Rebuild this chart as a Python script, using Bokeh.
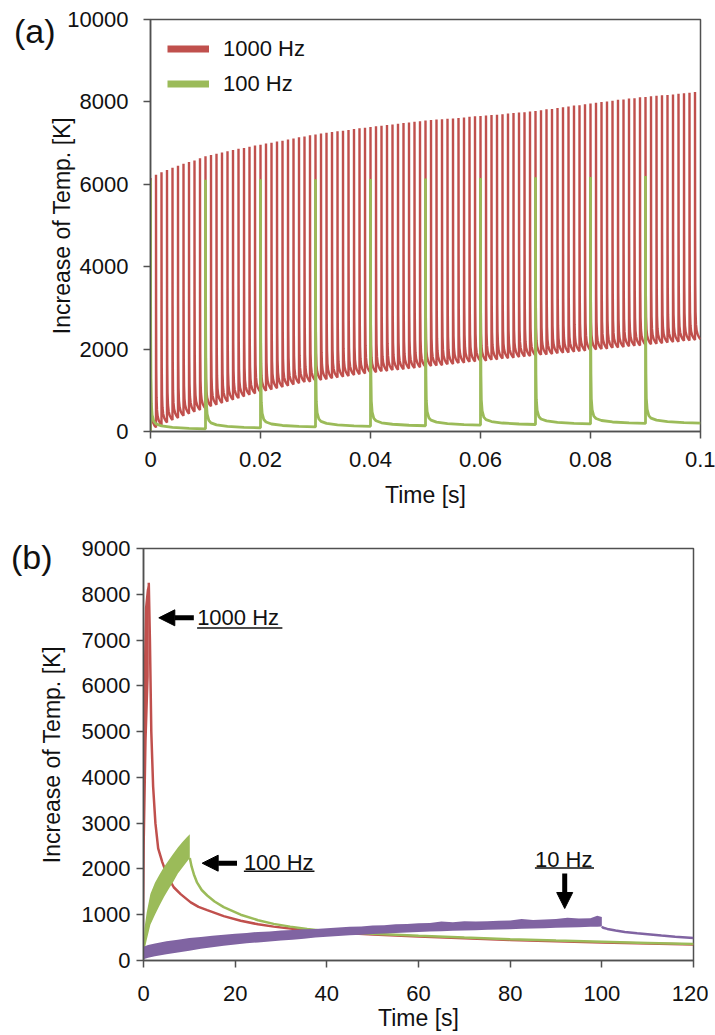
from bokeh.plotting import figure
from bokeh.layouts import column, row
from bokeh.models import (Range1d, FixedTicker, PrintfTickFormatter, Label, Arrow,
                          NormalHead, Legend, LegendItem, LinearAxis, Spacer)
from bokeh.embed import file_html
from bokeh.resources import INLINE

# ---------------- panel (a): pulse trains over 0.1 s ----------------
freq_a = [1000, 100]            # Hz (red, green)
red_a_peak = [
    6150, 6230, 6290, 6350, 6400, 6450, 6500, 6540, 6580, 6630,
    6680, 6710, 6740, 6770, 6800, 6830, 6860, 6880, 6910, 6940,
    6960, 6990, 7010, 7040, 7060, 7090, 7110, 7140, 7160, 7190,
    7210, 7230, 7250, 7270, 7290, 7300, 7320, 7340, 7360, 7370,
    7390, 7410, 7420, 7440, 7450, 7470, 7490, 7500, 7520, 7530,
    7550, 7560, 7570, 7580, 7590, 7600, 7610, 7620, 7640, 7650,
    7660, 7670, 7680, 7690, 7700, 7720, 7730, 7740, 7750, 7770,
    7780, 7800, 7820, 7830, 7850, 7870, 7890, 7910, 7920, 7940,
    7960, 7980, 8000, 8010, 8030, 8050, 8060, 8080, 8090, 8110,
    8120, 8140, 8150, 8160, 8170, 8180, 8200, 8210, 8220, 8240]
red_a_trough = [
    0, 100, 160, 220, 280, 330, 380, 430, 480, 520,
    560, 610, 650, 690, 730, 770, 810, 850, 890, 920,
    960, 990, 1020, 1050, 1080, 1110, 1140, 1170, 1200, 1210,
    1230, 1250, 1270, 1290, 1310, 1330, 1350, 1370, 1390, 1410,
    1430, 1440, 1460, 1470, 1490, 1500, 1510, 1530, 1540, 1560,
    1570, 1590, 1600, 1610, 1630, 1640, 1660, 1670, 1690, 1700,
    1710, 1720, 1740, 1750, 1770, 1780, 1790, 1810, 1820, 1830,
    1845, 1860, 1870, 1880, 1900, 1910, 1920, 1935, 1950, 1960,
    1975, 1990, 2000, 2010, 2030, 2040, 2050, 2070, 2080, 2090,
    2105, 2120, 2130, 2140, 2160, 2170, 2180, 2200, 2210, 2220, 2240]
green_a_peak = [6100, 6110, 6120, 6120, 6130, 6140, 6150, 6170, 6180, 6200]
green_a_trough = [0, 65, 90, 110, 125, 140, 155, 170, 185, 195, 205]
# shape of one pulse: time as fraction of the period, height as fraction of the jump
red_pulse_dt = [0, 0.02, 0.05, 0.1, 0.18, 0.3, 0.5, 0.75, 1.0]
red_pulse_frac = [1.0, 0.45, 0.22, 0.11, 0.06, 0.035, 0.018, 0.007, 0.0]
green_pulse_dt = [0, 0.003, 0.008, 0.015, 0.03, 0.06, 0.1, 0.2, 0.4, 0.7, 1.0]
green_pulse_frac = [1.0, 0.4, 0.2, 0.1, 0.055, 0.03, 0.02, 0.012, 0.006, 0.002, 0.0]

# ---------------- panel (b): long time scale ----------------
red_b_band_t = [0, 0.05, 0.3, 0.7, 1.15]
red_b_band_hi = [0, 6300, 7700, 8100, 8250]
red_b_band_lo = [0, 0, 2500, 4800, 6200]
red_b_tail_t = [1.15, 1.4, 1.7, 2.1, 2.6, 3.2, 4.1, 5.2, 6.6, 8.1, 10.3, 12, 13.9, 17.5,
                21.2, 25, 28.4, 34.3, 40, 50, 60, 70, 80, 90, 100, 110, 120]
red_b_tail_T = [8250, 7000, 5000, 3800, 3000, 2450, 2150, 1850, 1600, 1450, 1270, 1170,
                1100, 970, 870, 790, 740, 670, 620, 570, 525, 485, 450, 420, 395, 370, 350]

green_b_band_t = [0, 0.2, 0.7, 1.5, 2.5, 3.5, 4.5, 5.5, 6.5, 7.5, 8.5, 9.5, 10.1]
green_b_band_hi = [250, 700, 1050, 1450, 1700, 1880, 2050, 2190, 2330, 2470, 2590, 2700, 2760]
green_b_band_lo = [150, 220, 450, 780, 1000, 1200, 1390, 1560, 1720, 1900, 2030, 2160, 2240]
green_b_tail_t = [10.1, 10.5, 11, 11.7, 12.7, 13.9, 15.5, 17.5, 21.2, 25, 28.4, 32, 35.7,
                  40, 50, 60, 70, 80, 90, 100, 110, 120]
green_b_tail_T = [2240, 2050, 1880, 1700, 1540, 1420, 1290, 1165, 1000, 880, 800, 740, 690,
                  640, 585, 540, 500, 465, 435, 410, 385, 360]

purple_b_band_t = [0, 1, 2.5, 5, 7.5, 10, 12.5, 15, 17.5, 20, 22.5, 25, 27.5, 30, 32.5, 35,
                   37.5, 40, 42.5, 45, 47.5, 50, 52.5, 55, 57.5, 60, 62.5, 65, 67.5, 70,
                   72.5, 75, 77.5, 80, 82.5, 85, 87.5, 90, 92.5, 95, 97.5, 99, 100]
purple_b_band_hi = [300, 340, 370, 420, 455, 490, 515, 540, 565, 585, 600, 625, 635, 655,
                    665, 680, 690, 705, 720, 735, 745, 765, 770, 790, 800, 815, 820, 850,
                    835, 855, 850, 860, 870, 875, 905, 885, 895, 905, 935, 915, 925, 975, 950]
purple_b_band_lo = [30, 60, 95, 135, 175, 215, 255, 290, 320, 350, 375, 395, 415, 435,
                    455, 475, 500, 520, 535, 550, 565, 580, 592, 603, 614, 625, 632, 640,
                    648, 655, 663, 670, 678, 685, 692, 700, 707, 715, 722, 728, 735, 738, 740]
purple_b_tail_t = [100, 100.3, 101.2, 103, 105, 107.7, 110, 113, 116, 120]
purple_b_tail_T = [740, 715, 690, 655, 625, 597, 575, 545, 520, 490]

# annotations of panel (b)
ann_text = ["1000 Hz", "100 Hz", "10 Hz"]
ann_text_x = [11.7, 21.9, 85.4]
ann_text_y = [7486, 2141, 2211]
ann_line_x0 = [11.7, 21.9, 85.4]
ann_line_x1 = [30.3, 37.3, 98.3]
ann_line_y = [7264, 1951, 2020]
arrow_x_start = [10.98, 20.4, 91.9]
arrow_y_start = [7486, 2126, 1900]
arrow_x_end = [3.34, 12.8, 91.9]
arrow_y_end = [7486, 2126, 1136]
# panel letters, placed at these heights of each panel's y scale
panel_text = ["(a)", "(b)"]
panel_y = [9709, 8825]

xticks_a = [0, 0.02, 0.04, 0.06, 0.08, 0.1]
yticks_a = [0, 2000, 4000, 6000, 8000, 10000]
xticks_b = [0, 20, 40, 60, 80, 100, 120]
yticks_b = [0, 1000, 2000, 3000, 4000, 5000, 6000, 7000, 8000, 9000]

RED = "#C0504D"
GREEN = "#9BBB59"
PURPLE = "#8064A2"
AX = "#505050"
FONT = "Liberation Sans"
NAN = float("nan")


def pulse_train(freq, peaks, troughs, dt, frac):
    period = 1.0 / freq
    xs, ys = [], []
    for k, pk in enumerate(peaks):
        t0 = k * period
        nxt = troughs[k + 1]
        xs.append(t0)
        ys.append(troughs[k])
        for d, f in zip(dt, frac):
            xs.append(t0 + d * period)
            ys.append(nxt + (pk - nxt) * f)
    return xs, ys


def style(p, xticks, yticks, ylab_standoff, xlab_standoff, ytick_standoff, xtick_standoff):
    for ax in p.axis:
        ax.axis_line_color = AX
        ax.axis_line_width = 1.5
        ax.major_tick_line_color = AX
        ax.major_tick_line_width = 1.5
        ax.major_tick_out = 7
        ax.major_tick_in = 0
        ax.minor_tick_line_color = None
        ax.major_label_text_font = FONT
        ax.major_label_text_font_size = "22px"
        ax.major_label_text_color = "#111111"
        ax.axis_label_text_font = FONT
        ax.axis_label_text_font_size = "23px"
        ax.axis_label_text_font_style = "normal"
        ax.axis_label_text_color = "#111111"
    p.xaxis.ticker = FixedTicker(ticks=xticks)
    p.yaxis.ticker = FixedTicker(ticks=yticks)
    p.yaxis.axis_label_standoff = ylab_standoff
    p.xaxis.axis_label_standoff = xlab_standoff
    p.yaxis.major_label_standoff = ytick_standoff
    p.xaxis.major_label_standoff = xtick_standoff
    p.outline_line_color = AX
    p.outline_line_width = 1.5
    p.xgrid.visible = False
    p.ygrid.visible = False
    p.background_fill_color = "white"
    p.border_fill_color = "white"


def panel_letter(p, text, yval, standoff):
    ax = LinearAxis(ticker=FixedTicker(ticks=[yval]),
                    major_label_overrides={yval: text},
                    axis_line_color=None, major_tick_line_color=None,
                    minor_tick_line_color=None, major_tick_out=0, major_tick_in=0,
                    major_label_standoff=standoff,
                    major_label_text_font=FONT, major_label_text_font_size="34px",
                    major_label_text_color="#111111")
    p.add_layout(ax, "left")


# ---------------- figure (a) ----------------
pa = figure(width=708, height=528, x_range=Range1d(0, 0.1), y_range=Range1d(0, 10000),
            output_backend="svg", toolbar_location=None,
            min_border_left=143, min_border_right=15, min_border_top=19, min_border_bottom=97,
            x_axis_label="Time [s]", y_axis_label="Increase of Temp. [K]")
style(pa, xticks_a, yticks_a, -11, 12, 15, 13)
pa.xaxis.formatter = PrintfTickFormatter(format="%g")
panel_letter(pa, panel_text[0], panel_y[0], -9)

rx, ry = pulse_train(freq_a[0], red_a_peak, red_a_trough, red_pulse_dt, red_pulse_frac)
gx, gy = pulse_train(freq_a[1], green_a_peak, green_a_trough, green_pulse_dt, green_pulse_frac)
pa.line(rx, ry, line_color=RED, line_width=2.4)
pa.line(gx, gy, line_color=GREEN, line_width=2.8)

leg_red = pa.line([NAN], [NAN], line_color=RED, line_width=7)
leg_green = pa.line([NAN], [NAN], line_color=GREEN, line_width=7)
legend = Legend(items=[LegendItem(label="1000 Hz", renderers=[leg_red]),
                       LegendItem(label="100 Hz", renderers=[leg_green])],
                location=(17, 330), padding=10, margin=0, spacing=0,
                glyph_width=42, glyph_height=35, label_height=35, label_standoff=14,
                label_text_font=FONT, label_text_font_size="22px",
                label_text_color="#111111",
                border_line_color=None, background_fill_alpha=0)
pa.add_layout(legend, "center")

# ---------------- figure (b) ----------------
pb = figure(width=708, height=505, x_range=Range1d(0, 120), y_range=Range1d(0, 9000),
            output_backend="svg", toolbar_location=None,
            min_border_left=143, min_border_right=15, min_border_top=20, min_border_bottom=73,
            x_axis_label="Time [s]", y_axis_label="Increase of Temp. [K]")
style(pb, xticks_b, yticks_b, 14, 1, 6, 18)
panel_letter(pb, panel_text[1], panel_y[1], -17)

pb.varea(x=red_b_band_t, y1=red_b_band_lo, y2=red_b_band_hi, fill_color=RED)
pb.line(red_b_tail_t, red_b_tail_T, line_color=RED, line_width=2.5)
pb.varea(x=green_b_band_t, y1=green_b_band_lo, y2=green_b_band_hi, fill_color=GREEN)
pb.line(green_b_tail_t, green_b_tail_T, line_color=GREEN, line_width=2.5)
pb.varea(x=purple_b_band_t, y1=purple_b_band_lo, y2=purple_b_band_hi, fill_color=PURPLE)
pb.line(purple_b_tail_t, purple_b_tail_T, line_color=PURPLE, line_width=2.5)

for i in range(len(ann_text)):
    pb.add_layout(Arrow(end=NormalHead(size=16, fill_color="black", line_color="black",
                                       line_width=1),
                        x_start=arrow_x_start[i], y_start=arrow_y_start[i],
                        x_end=arrow_x_end[i], y_end=arrow_y_end[i],
                        line_color="black", line_width=5))
    pb.add_layout(Label(x=ann_text_x[i], y=ann_text_y[i], text=ann_text[i],
                        text_font=FONT, text_font_size="22px", text_baseline="middle",
                        text_color="#111111"))
pb.segment(x0=ann_line_x0, y0=ann_line_y, x1=ann_line_x1, y1=ann_line_y,
           line_color="#111111", line_width=1.5)

layout = column(row(Spacer(width=7, height=528), pa, spacing=0), pb, spacing=0)
open("out.html", "w").write(file_html(layout, INLINE))
